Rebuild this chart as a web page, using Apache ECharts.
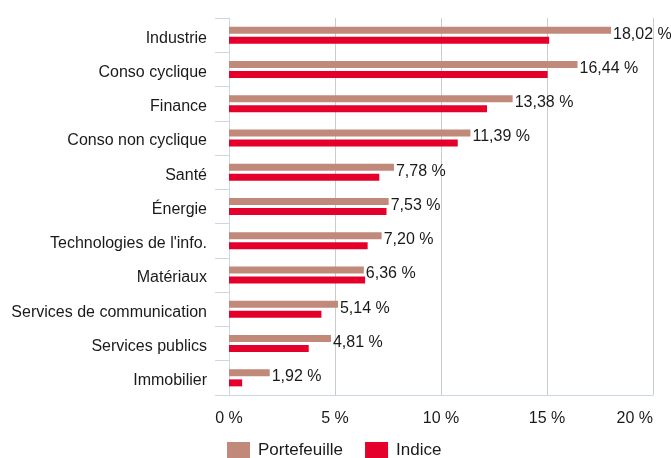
<!DOCTYPE html>
<html>
<head>
<meta charset="utf-8">
<script src="https://cdn.jsdelivr.net/npm/echarts@6/dist/echarts.min.js"></script>
<style>
  html, body { margin: 0; padding: 0; background: #fff; }
  #chart-content { width: 671px; height: 458px; }
</style>
</head>
<body>
<div id="chart-content"></div>
<script>
var sectors = ["Industrie", "Conso cyclique", "Finance", "Conso non cyclique", "Santé", "Énergie",
  "Technologies de l'info.", "Matériaux", "Services de communication", "Services publics", "Immobilier"];
var portefeuille = [18.02, 16.44, 13.38, 11.39, 7.78, 7.53, 7.20, 6.36, 5.14, 4.81, 1.92];
var indice = [15.10, 15.03, 12.17, 10.79, 7.09, 7.43, 6.54, 6.42, 4.36, 3.76, 0.62];

var font = "'Liberation Sans', Arial, sans-serif";

function pct(v) {
  return v.toFixed(2).replace(".", ",") + " %";
}

var myChart = echarts.init(document.getElementById("chart-content"));

var option = {
  animation: false,
  grid: { left: 229, top: 18, width: 424, height: 377 },
  legend: {
    data: ["Portefeuille", "Indice"],
    left: 222,
    top: 437,
    itemWidth: 23,
    itemHeight: 17,
    itemGap: 22,
    icon: "rect",
    textStyle: { fontFamily: font, fontSize: 17, color: "#1a1a1a", padding: [0, 0, 0, 3] }
  },
  xAxis: {
    type: "value",
    min: 0,
    max: 20,
    interval: 5,
    axisLine: { show: true, lineStyle: { color: "#ccd6eb" } },
    axisTick: { show: false },
    splitLine: { lineStyle: { color: "#cccccc" } },
    axisLabel: {
      fontFamily: font, fontSize: 16, color: "#1a1a1a", margin: 16,
      alignMaxLabel: "right",
      formatter: function (v) { return v + " %"; }
    }
  },
  yAxis: {
    type: "category",
    data: sectors,
    inverse: true,
    axisLine: { show: true, lineStyle: { color: "#ccd6eb" } },
    axisTick: { show: true, length: 14, lineStyle: { color: "#ccd6eb" } },
    axisLabel: {
      fontFamily: font, fontSize: 16, color: "#1a1a1a", margin: 22,
      verticalAlign: "top", lineHeight: 6
    }
  },
  series: [
    {
      name: "Portefeuille",
      type: "bar",
      data: portefeuille,
      barWidth: 7,
      barGap: "43%",
      itemStyle: { color: "#c0897a" },
      label: {
        show: true,
        position: "right",
        distance: 2,
        offset: [0, 4],
        fontFamily: font,
        fontSize: 16,
        color: "#1a1a1a",
        formatter: function (p) { return pct(p.value); }
      }
    },
    {
      name: "Indice",
      type: "bar",
      data: indice,
      barWidth: 7,
      itemStyle: { color: "#e4002b" }
    }
  ]
};

myChart.setOption(option);
</script>
</body>
</html>
